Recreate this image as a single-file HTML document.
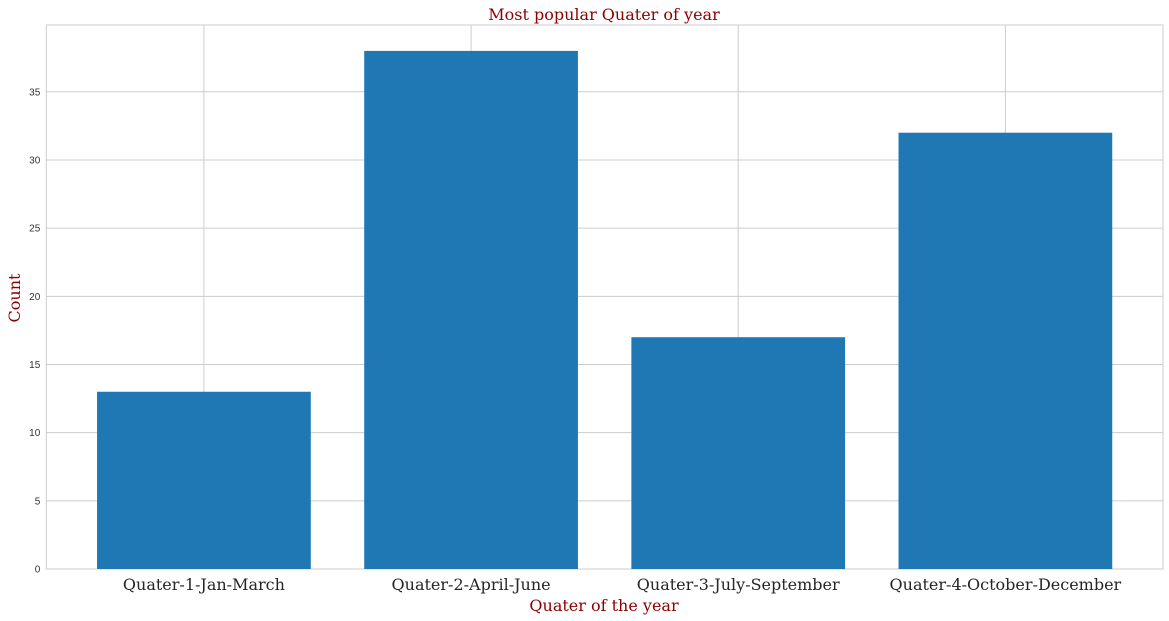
<!DOCTYPE html>
<html><head><meta charset="utf-8"><style>
body{margin:0;background:#fff;}
svg{display:block;}
</style></head><body>
<svg id="chart" width="1169" height="621" xmlns="http://www.w3.org/2000/svg">
<text x="604" y="20" text-anchor="middle" font-family="DejaVu Serif, serif" font-size="16" fill="#8b0000">Most popular Quater of year</text>
<text x="604" y="611" text-anchor="middle" font-family="DejaVu Serif, serif" font-size="16" fill="#8b0000">Quater of the year</text>
<text transform="translate(20,298) rotate(-90)" text-anchor="middle" font-family="DejaVu Serif, serif" font-size="16" fill="#8b0000">Count</text>
<g id="grid"></g><g id="bars"></g><g id="labels"></g>
</svg>
<script>
const categories = ["Quater-1-Jan-March","Quater-2-April-June","Quater-3-July-September","Quater-4-October-December"];
const counts = [13, 38, 17, 32];
const yTicks = [0,5,10,15,20,25,30,35];

const L=46.3,R=1163,T=25,B=569;
const xMin=-0.59,xMax=3.59,yMax=39.9;
const NS="http://www.w3.org/2000/svg";
const xs=v=>L+(v-xMin)/(xMax-xMin)*(R-L);
const ys=v=>B-v/yMax*(B-T);
function mk(t,a,p){const e=document.createElementNS(NS,t);for(const k in a)e.setAttribute(k,a[k]);p.appendChild(e);return e;}
const grid=document.getElementById('grid'),bars=document.getElementById('bars'),labels=document.getElementById('labels');
const frame=mk('rect',{x:L,y:T,width:R-L,height:B-T,fill:'none',stroke:'#cccccc','stroke-width':1},grid);


yTicks.forEach(v=>{
  const ln=mk('line',{x1:L,x2:R,y1:ys(v),y2:ys(v),stroke:'#cccccc','stroke-width':1},grid);
  
  
  const t=mk('text',{x:L-6,y:ys(v)+3.5,'text-anchor':'end','font-family':'Liberation Sans, sans-serif','font-size':10,fill:'#333'},labels);
  t.textContent=v;
  
  
});
categories.forEach((c,i)=>{
  const ln=mk('line',{x1:xs(i),x2:xs(i),y1:T,y2:B,stroke:'#cccccc','stroke-width':1},grid);
  
  
  const r=mk('rect',{x:xs(i-0.4),y:ys(counts[i]),width:xs(i+0.4)-xs(i-0.4),height:B-ys(counts[i]),fill:'#1f77b4'},bars);
  
  
  const t=mk('text',{x:xs(i),y:590,'text-anchor':'middle','font-family':'DejaVu Serif, serif','font-size':16,fill:'#262626'},labels);
  t.textContent=c;
  
  
});
</script>
</body></html>
